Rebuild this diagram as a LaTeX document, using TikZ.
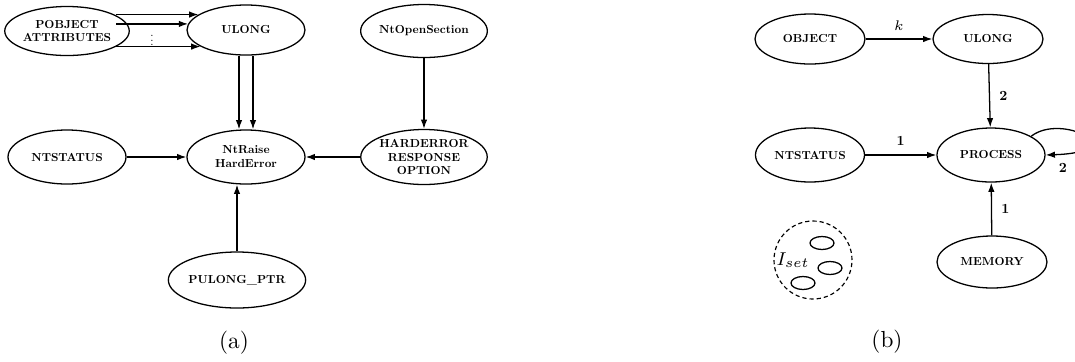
\documentclass[tikz,border=0pt]{standalone}
\usetikzlibrary{arrows.meta,shapes.geometric}
\newdimen\upx \upx=0.43pt
\font\nfnt="[lmroman10-bold.otf]" at 5pt
\font\lfnt="[lmroman10-bold.otf]" at 6pt
\begin{document}
\begin{tikzpicture}[x=0.43pt,y=-0.43pt,line width=0.55pt,
  ell/.style={ellipse,draw,inner sep=0pt,font=\tiny\nfnt,align=center},
  small/.style={ellipse,draw,inner sep=0pt,minimum width=24\upx,minimum height=13\upx},
  arr/.style={-{Latex[length=4pt,width=2.8pt]}},
  lab/.style={font=\lfnt,inner sep=0pt},
  captxt/.style={font=\normalsize,inner sep=0pt}]
\useasboundingbox (0,0) rectangle (1075,361);

% ---------- (a) ----------
\node[ell,minimum width=118\upx,minimum height=49\upx] (pobj) at (67,31) {POBJECT\\ATTRIBUTES};
\node[ell,minimum width=118\upx,minimum height=50\upx] (ulongA) at (246,30) {ULONG};
\node[ell,minimum width=118\upx,minimum height=53\upx] (ntopen) at (424,31) {NtOpenSection};
\node[ell,minimum width=118\upx,minimum height=54\upx] (ntraise) at (246,157) {NtRaise\\HardError};
\node[ell,minimum width=118\upx,minimum height=54\upx] (ntstatusA) at (67,157) {NTSTATUS};
\node[ell,minimum width=118\upx,minimum height=55\upx] (harderr) at (424,157) {HARDERROR\\RESPONSE\\OPTION};
\node[ell,minimum width=114\upx,minimum height=56\upx] (pulong) at (237,280) {PULONG\_PTR};

\coordinate (ps) at (116,0);
\draw[arr] (ps |- ulongA.162) -- (ulongA.162);
\draw[arr] (ps |- ulongA.174) -- (ulongA.174);
\draw[arr] (ps |- ulongA.200) -- (ulongA.200);
\node[inner sep=0pt] (dots) at (152,37) {\scalebox{0.5}{$\vdots$}};

\draw[arr] ([xshift=-7\upx]ulongA.south) -- ([xshift=-7\upx]ntraise.north);
\draw[arr] ([xshift=7\upx]ulongA.south) -- ([xshift=7\upx]ntraise.north);
\draw[arr] (ntstatusA) -- (ntraise);
\draw[arr] (harderr) -- (ntraise);
\draw[arr] (ntopen) -- (harderr);
\draw[arr] (pulong.north) -- (pulong.north |- ntraise.south);

\node[captxt] (capa) at (234,343) {(a)};

% ---------- (b) ----------
\node[ell,minimum width=110\upx,minimum height=50\upx] (object) at (810,39) {OBJECT};
\node[ell,minimum width=110\upx,minimum height=49\upx] (ulongB) at (988,39) {ULONG};
\node[ell,minimum width=109\upx,minimum height=54\upx] (ntstatusB) at (810,155) {NTSTATUS};
\node[ell,minimum width=108\upx,minimum height=54\upx] (processB) at (991,155) {PROCESS};
\node[ell,minimum width=110\upx,minimum height=52\upx] (memory) at (992,262) {MEMORY};

\draw[arr] (object) -- node[above=3.5pt,inner sep=0pt,font=\fontsize{6}{7}\selectfont] (klab) {$k$} (ulongB);
\draw[arr] (ulongB) -- node[lab,right=4pt] (l2a) {2} (processB);
\draw[arr] (ntstatusB) -- node[lab,above=4pt] (l1a) {1} (processB);
\draw[arr] (memory) -- node[lab,right=4pt] (l1b) {1} (processB);

\begin{scope}
\clip (0,0) rectangle (1075,361);
\draw[arr] (processB.25) .. controls (1062,112) and (1135,152) .. (processB.east);
\end{scope}
\node[lab] (l2b) at (1063,168) {2};

\node[circle,draw,line width=0.5pt,dash pattern=on 1.8pt off 1.3pt,minimum size=78\upx,inner sep=0pt] (iset) at (813,260) {};
\node[small] (s1) at (822,243) {};
\node[small] (s2) at (830,268) {};
\node[small] (s3) at (803,283) {};
\node[inner sep=0pt,font=\footnotesize] (isetlab) at (793,260) {$I_{set}$};

\node[captxt] (capb) at (887,342) {(b)};
\end{tikzpicture}
\end{document}
